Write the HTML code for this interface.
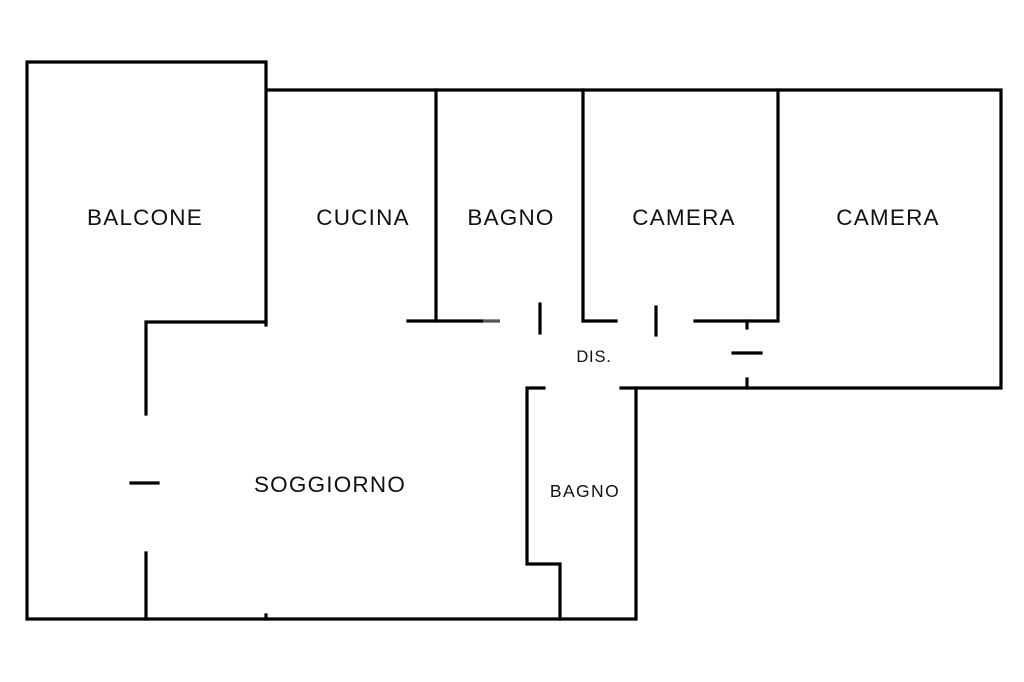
<!DOCTYPE html>
<html><head><meta charset="utf-8"><style>
html,body{margin:0;padding:0;background:#fff;}
svg{display:block}
text{font-family:"Liberation Sans",sans-serif;fill:#111;}
</style></head><body>
<svg width="1024" height="682" viewBox="0 0 1024 682" xmlns="http://www.w3.org/2000/svg">
<g stroke="#000" stroke-width="3.2" fill="none" stroke-linecap="square">
<polyline points="266,325 266,62 27,62 27,619 636,619 636,388 1001,388 1001,90 266,90"/>
<polyline points="266,322 146,322 146,414"/>
<line x1="146" y1="553" x2="146" y2="619"/>
<line x1="131" y1="483" x2="158" y2="483"/>
<line x1="266" y1="615" x2="266" y2="619"/>
<line x1="436" y1="90" x2="436" y2="321"/>
<line x1="408" y1="321" x2="482" y2="321"/>
<line x1="540" y1="304" x2="540" y2="333"/>
<line x1="583" y1="90" x2="583" y2="321"/>
<line x1="583" y1="321" x2="616" y2="321"/>
<line x1="656" y1="307" x2="656" y2="335"/>
<polyline points="695,321 778,321 778,90"/>
<line x1="747" y1="321" x2="747" y2="328"/>
<line x1="733" y1="353" x2="761" y2="353"/>
<line x1="747" y1="379" x2="747" y2="388"/>
<polyline points="544,388 527,388 527,564 560,564 560,619"/>
<line x1="621" y1="388" x2="636" y2="388"/>
</g>
<line x1="483" y1="321" x2="500" y2="321" stroke="#555" stroke-width="3.2"/>
<g font-size="22.5" text-anchor="middle" letter-spacing="1.2">
<text x="145" y="225">BALCONE</text>
<text x="363" y="225">CUCINA</text>
<text x="511" y="225">BAGNO</text>
<text x="684" y="225">CAMERA</text>
<text x="888" y="225">CAMERA</text>
<text x="330" y="492">SOGGIORNO</text>
</g>
<text x="594" y="362" font-size="16.5" text-anchor="middle" letter-spacing="0.8">DIS.</text>
<text x="585" y="497" font-size="17.5" text-anchor="middle" letter-spacing="1.4">BAGNO</text>
</svg>
</body></html>
